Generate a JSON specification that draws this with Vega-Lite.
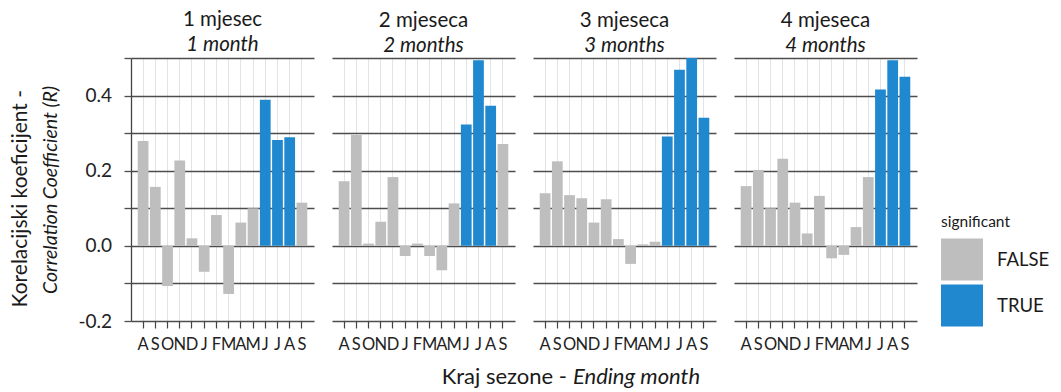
{
  "$schema": "https://vega.github.io/schema/vega-lite/v6.json",
  "padding": {"left": 9, "top": 10, "right": 5, "bottom": 2},
  "title": {
    "text": "Korelacijski koeficijent -",
    "orient": "left",
    "anchor": "middle",
    "font": "Lato",
    "fontSize": 21,
    "fontWeight": "normal",
    "color": "#1a1a1a",
    "offset": 10
  },
  "datasets": {
    "corr": [
      {"lag": 1, "order": 1, "month": "A", "r": 0.279, "significant": "FALSE"},
      {"lag": 1, "order": 2, "month": "S", "r": 0.157, "significant": "FALSE"},
      {"lag": 1, "order": 3, "month": "O", "r": -0.107, "significant": "FALSE"},
      {"lag": 1, "order": 4, "month": "N", "r": 0.227, "significant": "FALSE"},
      {"lag": 1, "order": 5, "month": "D", "r": 0.020, "significant": "FALSE"},
      {"lag": 1, "order": 6, "month": "J", "r": -0.069, "significant": "FALSE"},
      {"lag": 1, "order": 7, "month": "F", "r": 0.082, "significant": "FALSE"},
      {"lag": 1, "order": 8, "month": "M", "r": -0.128, "significant": "FALSE"},
      {"lag": 1, "order": 9, "month": "A", "r": 0.062, "significant": "FALSE"},
      {"lag": 1, "order": 10, "month": "M", "r": 0.100, "significant": "FALSE"},
      {"lag": 1, "order": 11, "month": "J", "r": 0.389, "significant": "TRUE"},
      {"lag": 1, "order": 12, "month": "J", "r": 0.282, "significant": "TRUE"},
      {"lag": 1, "order": 13, "month": "A", "r": 0.289, "significant": "TRUE"},
      {"lag": 1, "order": 14, "month": "S", "r": 0.115, "significant": "FALSE"},

      {"lag": 2, "order": 1, "month": "A", "r": 0.172, "significant": "FALSE"},
      {"lag": 2, "order": 2, "month": "S", "r": 0.295, "significant": "FALSE"},
      {"lag": 2, "order": 3, "month": "O", "r": 0.006, "significant": "FALSE"},
      {"lag": 2, "order": 4, "month": "N", "r": 0.064, "significant": "FALSE"},
      {"lag": 2, "order": 5, "month": "D", "r": 0.183, "significant": "FALSE"},
      {"lag": 2, "order": 6, "month": "J", "r": -0.027, "significant": "FALSE"},
      {"lag": 2, "order": 7, "month": "F", "r": 0.006, "significant": "FALSE"},
      {"lag": 2, "order": 8, "month": "M", "r": -0.027, "significant": "FALSE"},
      {"lag": 2, "order": 9, "month": "A", "r": -0.065, "significant": "FALSE"},
      {"lag": 2, "order": 10, "month": "M", "r": 0.113, "significant": "FALSE"},
      {"lag": 2, "order": 11, "month": "J", "r": 0.323, "significant": "TRUE"},
      {"lag": 2, "order": 12, "month": "J", "r": 0.494, "significant": "TRUE"},
      {"lag": 2, "order": 13, "month": "A", "r": 0.373, "significant": "TRUE"},
      {"lag": 2, "order": 14, "month": "S", "r": 0.271, "significant": "FALSE"},

      {"lag": 3, "order": 1, "month": "A", "r": 0.140, "significant": "FALSE"},
      {"lag": 3, "order": 2, "month": "S", "r": 0.225, "significant": "FALSE"},
      {"lag": 3, "order": 3, "month": "O", "r": 0.135, "significant": "FALSE"},
      {"lag": 3, "order": 4, "month": "N", "r": 0.127, "significant": "FALSE"},
      {"lag": 3, "order": 5, "month": "D", "r": 0.062, "significant": "FALSE"},
      {"lag": 3, "order": 6, "month": "J", "r": 0.124, "significant": "FALSE"},
      {"lag": 3, "order": 7, "month": "F", "r": 0.018, "significant": "FALSE"},
      {"lag": 3, "order": 8, "month": "M", "r": -0.048, "significant": "FALSE"},
      {"lag": 3, "order": 9, "month": "A", "r": 0.004, "significant": "FALSE"},
      {"lag": 3, "order": 10, "month": "M", "r": 0.011, "significant": "FALSE"},
      {"lag": 3, "order": 11, "month": "J", "r": 0.291, "significant": "TRUE"},
      {"lag": 3, "order": 12, "month": "J", "r": 0.469, "significant": "TRUE"},
      {"lag": 3, "order": 13, "month": "A", "r": 0.500, "significant": "TRUE"},
      {"lag": 3, "order": 14, "month": "S", "r": 0.341, "significant": "TRUE"},

      {"lag": 4, "order": 1, "month": "A", "r": 0.159, "significant": "FALSE"},
      {"lag": 4, "order": 2, "month": "S", "r": 0.202, "significant": "FALSE"},
      {"lag": 4, "order": 3, "month": "O", "r": 0.100, "significant": "FALSE"},
      {"lag": 4, "order": 4, "month": "N", "r": 0.232, "significant": "FALSE"},
      {"lag": 4, "order": 5, "month": "D", "r": 0.115, "significant": "FALSE"},
      {"lag": 4, "order": 6, "month": "J", "r": 0.033, "significant": "FALSE"},
      {"lag": 4, "order": 7, "month": "F", "r": 0.133, "significant": "FALSE"},
      {"lag": 4, "order": 8, "month": "M", "r": -0.033, "significant": "FALSE"},
      {"lag": 4, "order": 9, "month": "A", "r": -0.024, "significant": "FALSE"},
      {"lag": 4, "order": 10, "month": "M", "r": 0.050, "significant": "FALSE"},
      {"lag": 4, "order": 11, "month": "J", "r": 0.183, "significant": "FALSE"},
      {"lag": 4, "order": 12, "month": "J", "r": 0.416, "significant": "TRUE"},
      {"lag": 4, "order": 13, "month": "A", "r": 0.494, "significant": "TRUE"},
      {"lag": 4, "order": 14, "month": "S", "r": 0.450, "significant": "TRUE"}
    ]
  },
  "bounds": "flush",
  "spacing": 18,
  "hconcat": [
    {
      "width": 183,
      "height": 263,
      "title": {"text": "1 mjesec", "subtitle": "1 month"},
      "data": {"name": "corr"},
      "transform": [{"filter": "datum.lag == 1"}],
      "mark": {"type": "bar"},
      "encoding": {
        "x": {"field": "order", "type": "ordinal", "axis": {"title": null}},
        "y": {
          "field": "r",
          "type": "quantitative",
          "scale": {"domain": [-0.2, 0.5], "nice": false, "zero": false},
          "axis": {
            "values": [-0.2, -0.1, 0, 0.1, 0.2, 0.3, 0.4, 0.5],
            "labelExpr": "abs(round(datum.value * 10)) % 2 == 0 ? replace(format(datum.value, '.1f'), '\u2212', '-') : ''",
            "domain": true,
            "ticks": true,
            "title": "Correlation Coefficient (R)",
            "titleFontStyle": "italic",
            "titleFontSize": 19.5
          }
        },
        "color": {
          "field": "significant",
          "type": "nominal",
          "title": "significant",
          "scale": {"domain": ["FALSE", "TRUE"], "range": ["#bebebe", "#1f88cf"]},
          "legend": {"orient": "none", "legendX": 810, "legendY": 157}
        }
      }
    },
    {
      "width": 183,
      "height": 263,
      "title": {"text": "2 mjeseca", "subtitle": "2 months"},
      "data": {"name": "corr"},
      "transform": [{"filter": "datum.lag == 2"}],
      "mark": {"type": "bar"},
      "encoding": {
        "x": {
          "field": "order",
          "type": "ordinal",
          "axis": {"title": "Kraj sezone -", "titleX": 234.5, "titleY": 62, "titleAlign": "right", "titleBaseline": "alphabetic"}
        },
        "y": {
          "field": "r",
          "type": "quantitative",
          "scale": {"domain": [-0.2, 0.5], "nice": false, "zero": false},
          "axis": {"values": [-0.2, -0.1, 0, 0.1, 0.2, 0.3, 0.4, 0.5], "labels": false, "ticks": false, "domain": false, "title": null}
        },
        "color": {"field": "significant", "type": "nominal", "title": "significant"}
      }
    },
    {
      "width": 183,
      "height": 263,
      "title": {"text": "3 mjeseca", "subtitle": "3 months"},
      "data": {"name": "corr"},
      "transform": [{"filter": "datum.lag == 3"}],
      "mark": {"type": "bar"},
      "encoding": {
        "x": {
          "field": "order",
          "type": "ordinal",
          "axis": {"title": "Ending month", "titleX": 39.5, "titleY": 62, "titleAlign": "left", "titleBaseline": "alphabetic", "titleFontStyle": "italic"}
        },
        "y": {
          "field": "r",
          "type": "quantitative",
          "scale": {"domain": [-0.2, 0.5], "nice": false, "zero": false},
          "axis": {"values": [-0.2, -0.1, 0, 0.1, 0.2, 0.3, 0.4, 0.5], "labels": false, "ticks": false, "domain": false, "title": null}
        },
        "color": {"field": "significant", "type": "nominal", "title": "significant"}
      }
    },
    {
      "width": 183,
      "height": 263,
      "title": {"text": "4 mjeseca", "subtitle": "4 months"},
      "data": {"name": "corr"},
      "transform": [{"filter": "datum.lag == 4"}],
      "mark": {"type": "bar"},
      "encoding": {
        "x": {"field": "order", "type": "ordinal", "axis": {"title": null}},
        "y": {
          "field": "r",
          "type": "quantitative",
          "scale": {"domain": [-0.2, 0.5], "nice": false, "zero": false},
          "axis": {"values": [-0.2, -0.1, 0, 0.1, 0.2, 0.3, 0.4, 0.5], "labels": false, "ticks": false, "domain": false, "title": null}
        },
        "color": {"field": "significant", "type": "nominal", "title": "significant"}
      }
    }
  ],
  "config": {
    "font": "Lato",
    "background": "white",
    "view": {"stroke": null},
    "scale": {"bandPaddingInner": 0.12, "bandPaddingOuter": 0.55},
    "axis": {
      "labelFont": "Lato",
      "labelColor": "#222222",
      "titleFont": "Lato",
      "titleColor": "#1a1a1a",
      "titleFontWeight": "normal",
      "titleFontSize": 22
    },
    "axisX": {
      "grid": true,
      "gridColor": "#e3e3e3",
      "gridWidth": 1,
      "bandPosition": 0.5,
      "domain": false,
      "ticks": true,
      "tickColor": "#444444",
      "tickSize": 7,
      "tickWidth": 1.2,
      "labelAngle": 0,
      "labelFontSize": 16.5,
      "labelPadding": 8,
      "labelExpr": "['A','S','O','N','D','J','F','M','A','M','J','J','A','S'][datum.value - 1]",
      "zindex": 1
    },
    "axisY": {
      "grid": true,
      "gridColor": "#4d4d4d",
      "gridWidth": 1.3,
      "domainColor": "#444444",
      "domainWidth": 1.3,
      "tickColor": "#4d4d4d",
      "tickSize": 7,
      "tickWidth": 1.3,
      "labelFontSize": 19,
      "labelPadding": 12.5,
      "titlePadding": 17
    },
    "title": {
      "font": "Lato",
      "fontSize": 20.5,
      "fontWeight": "normal",
      "color": "#1a1a1a",
      "subtitleFont": "Lato",
      "subtitleFontSize": 20.5,
      "subtitleFontStyle": "italic",
      "subtitleColor": "#1a1a1a",
      "subtitlePadding": 4,
      "offset": 2,
      "anchor": "middle"
    },
    "legend": {
      "titleFont": "Lato",
      "titleFontSize": 15.5,
      "titleFontWeight": "normal",
      "titleColor": "#1a1a1a",
      "titlePadding": 8,
      "labelFont": "Lato",
      "labelFontSize": 18.5,
      "labelColor": "#1a1a1a",
      "labelOffset": 14,
      "symbolType": "square",
      "symbolSize": 1764,
      "symbolStrokeWidth": 0,
      "rowPadding": 4
    }
  }
}
